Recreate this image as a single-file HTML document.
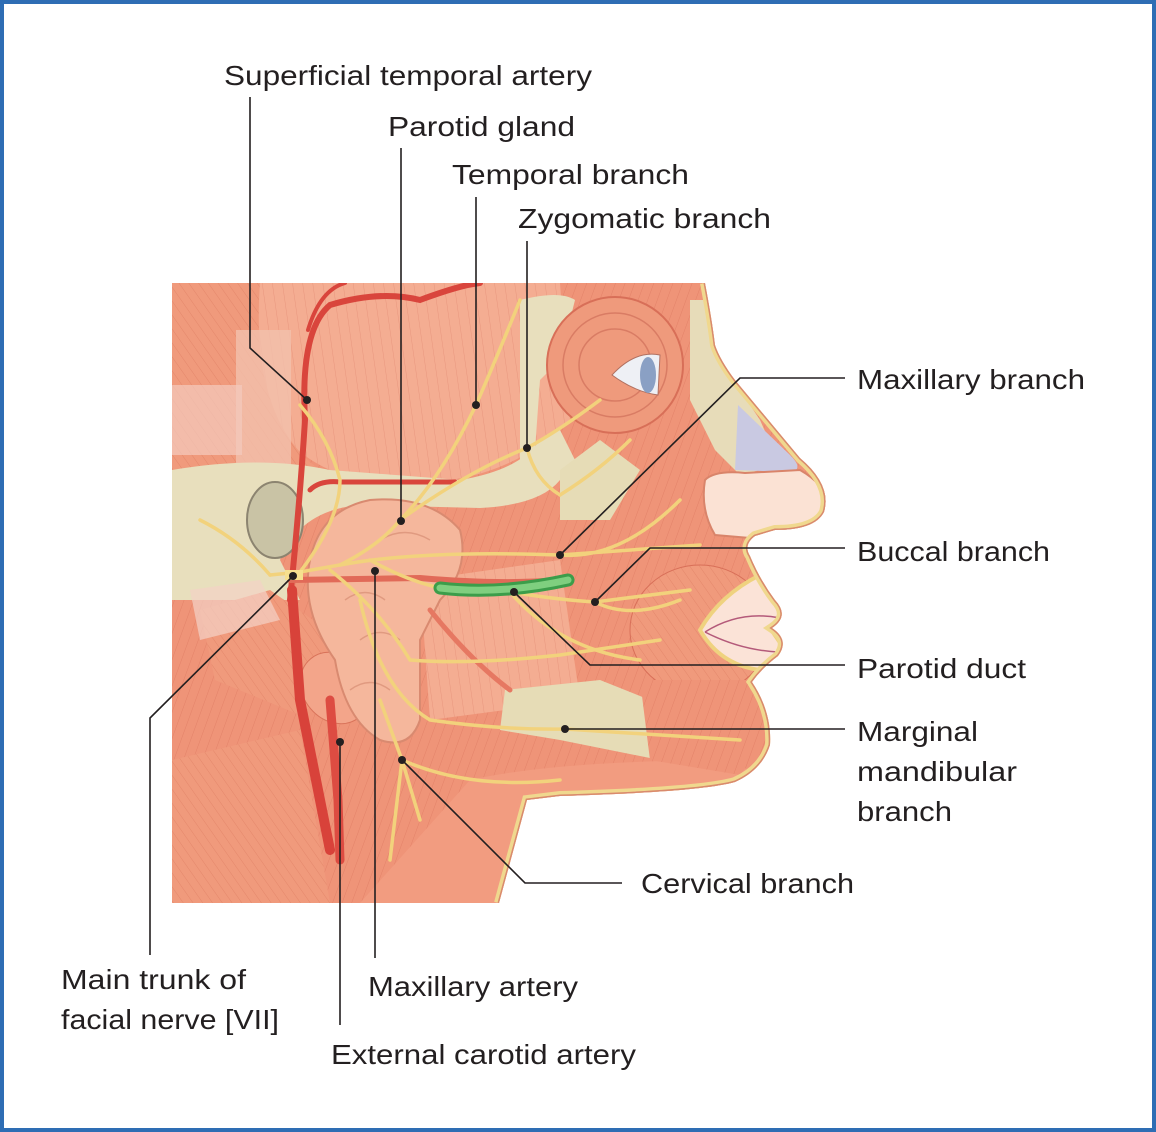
<!DOCTYPE html>
<html><head><meta charset="utf-8"><style>
html,body{margin:0;padding:0;background:#fff}
svg{display:block}
text{font-family:"Liberation Sans",sans-serif;font-size:28px;fill:#231f20}
</style></head><body>
<svg width="1156" height="1132" viewBox="0 0 1156 1132" xmlns="http://www.w3.org/2000/svg">
<defs>
<pattern id="fib" width="9" height="9" patternUnits="userSpaceOnUse" patternTransform="rotate(20)">
<rect width="9" height="9" fill="#ef9478"/><line x1="0" y1="0" x2="0" y2="9" stroke="#d9735a" stroke-width="1" opacity=".55"/></pattern>
<pattern id="fib2" width="8" height="8" patternUnits="userSpaceOnUse" patternTransform="rotate(-35)">
<rect width="8" height="8" fill="#f09a7c"/><line x1="0" y1="0" x2="0" y2="8" stroke="#d8735a" stroke-width="1" opacity=".5"/></pattern>
<pattern id="fib3" width="10" height="10" patternUnits="userSpaceOnUse" patternTransform="rotate(-8)">
<rect width="10" height="10" fill="#f4ad92"/><line x1="0" y1="0" x2="0" y2="10" stroke="#dc806a" stroke-width="1" opacity=".5"/></pattern>
<clipPath id="face"><path d="M172,283 L705,283 Q712,320 715,345 Q720,360 735,380 L800,458 Q832,485 824,512 Q815,530 775,530 L755,536 Q743,545 750,556 Q760,580 775,600 Q790,616 772,628 Q790,640 778,656 Q762,668 752,682 Q772,712 770,745 Q762,770 735,782 Q700,792 560,796 L527,800 L499,903 L172,903 Z"/></clipPath>
</defs>
<rect x="2" y="2" width="1152" height="1128" fill="#fff" stroke="#2e6db4" stroke-width="4"/>

<g clip-path="url(#face)">
<rect x="172" y="283" width="660" height="620" fill="url(#fib)"/>
<!-- temporalis fan -->
<path d="M230,283 L560,283 L570,420 Q520,470 450,480 L330,470 Q240,430 230,283Z" fill="url(#fib3)"/>
<path d="M172,283 L260,283 Q250,420 320,470 L172,470Z" fill="url(#fib2)"/>
<!-- whitish band left -->
<rect x="236" y="330" width="55" height="140" fill="#f3c0ad" opacity=".8"/>
<rect x="172" y="385" width="70" height="70" fill="#f4cbbd" opacity=".7"/>
<!-- zygomatic arch / bone -->
<path d="M172,470 Q260,455 330,470 L460,480 Q520,470 540,440 L560,430 L575,460 L560,480 Q540,505 480,508 L360,505 Q300,510 280,560 L300,600 L172,600Z" fill="#e8dfbd"/>
<path d="M520,300 Q560,290 575,300 L560,360 L540,380 L535,450 L520,470 Z" fill="#e8dfbd"/>
<path d="M560,470 L600,440 L640,470 L610,520 L560,520Z" fill="#e6dcb6"/>
<ellipse cx="275" cy="520" rx="28" ry="38" fill="#c9c3a5" stroke="#8c8470" stroke-width="2"/>
<!-- cut muscle cylinder -->
<path d="M200,610 L270,590 L370,660 L300,715 L215,680Z" fill="url(#fib2)"/>
<ellipse cx="335" cy="688" rx="32" ry="38" transform="rotate(-40 335 688)" fill="#f3a58a" stroke="#d9735a"/>
<path d="M190,590 L260,580 L280,620 L200,640Z" fill="#f4d2c6" opacity=".7"/>
<!-- lower neck lighter -->
<path d="M360,903 L470,780 Q560,760 740,760 L760,790 L499,903Z" fill="#f29c80"/>
<path d="M172,760 L300,730 L330,903 L172,903Z" fill="url(#fib2)"/>
<!-- masseter -->
<path d="M420,580 L560,560 L580,700 L430,720Z" fill="url(#fib3)"/>
<!-- mandible beige -->
<path d="M505,690 L600,680 L650,700 L660,760 L560,740 L500,730Z" fill="#e6dcb6"/>
<!-- orbicularis oculi -->
<circle cx="615" cy="365" r="68" fill="#ef9a7c" stroke="#d86f58" stroke-width="2"/>
<circle cx="615" cy="365" r="52" fill="none" stroke="#d97c64" stroke-width="1.5"/>
<circle cx="615" cy="365" r="36" fill="none" stroke="#d97c64" stroke-width="1.5"/>
<path d="M612,375 Q635,350 660,355 L658,395 Q635,392 612,375Z" fill="#eef0f5" stroke="#b07060"/>
<ellipse cx="648" cy="375" rx="8" ry="18" fill="#8aa0c4"/>
<!-- nose cartilage region -->
<path d="M690,300 L712,300 L718,355 L740,390 L760,420 L780,465 L740,475 L715,450 L690,400Z" fill="#e7dcb9"/>
<path d="M738,405 L790,455 Q805,470 790,472 L735,470 Z" fill="#c9c9e2"/>
<path d="M705,480 Q715,470 745,473 L800,470 Q835,490 822,515 Q810,532 770,530 L750,538 L715,535 Q700,510 705,480Z" fill="#fbe2d4" stroke="#d9846a" stroke-width="2"/>
<!-- mouth region -->
<ellipse cx="700" cy="630" rx="70" ry="65" fill="url(#fib2)" stroke="#d86f58"/>
<path d="M700,630 Q720,595 760,575 L790,615 L770,628 L785,650 L760,670 Q720,665 700,630Z" fill="#fbe3d7" stroke="#efd27f" stroke-width="4"/>
<path d="M705,632 Q740,610 780,618 M705,632 Q740,650 778,652" stroke="#b45a7a" fill="none" stroke-width="1.5"/>
<path d="M745,545 L760,580" stroke="#f0d58a" stroke-width="5" fill="none"/>
<!-- chin muscles -->
<path d="M640,680 L750,680 L768,740 L740,775 L650,760Z" fill="url(#fib)"/>
<!-- parotid gland -->
<path d="M310,560 Q320,510 370,500 Q430,495 460,530 Q470,570 440,600 L420,640 L420,720 Q410,750 380,740 Q345,720 335,660 Q300,610 310,560Z" fill="#f5b79c" stroke="#d98a70" stroke-width="2"/>
<path d="M345,600 q20,-15 40,0 M360,640 q20,-15 40,0 M350,690 q20,-15 40,0 M380,540 q25,-15 50,0" stroke="#e09a80" fill="none" stroke-width="1.5"/>
<!-- profile skin border -->
<path d="M705,283 Q712,320 715,345 Q720,360 735,380 L800,458 Q832,485 824,512 Q815,530 775,530 L755,536 Q743,545 750,556 Q760,580 775,600 Q790,616 772,628 Q790,640 778,656 Q762,668 752,682 Q772,712 770,745 Q762,770 735,782 Q700,792 560,796 L527,800 L499,903" fill="none" stroke="#f0d88e" stroke-width="10"/>
<path d="M705,283 Q712,320 715,345 Q720,360 735,380 L800,458 Q832,485 824,512 Q815,530 775,530 L755,536 Q743,545 750,556 Q760,580 775,600 Q790,616 772,628 Q790,640 778,656 Q762,668 752,682 Q772,712 770,745 Q762,770 735,782 Q700,792 560,796 L527,800 L499,903" fill="none" stroke="#d98a6e" stroke-width="3"/>
<!-- arteries -->
<g fill="none" stroke="#d9453c" stroke-linecap="round">
<path d="M290,600 Q300,500 305,420 Q300,330 330,305 Q380,290 420,300 Q460,285 480,283" stroke-width="6"/>
<path d="M308,330 Q320,290 345,283" stroke-width="4"/>
<path d="M310,490 Q320,480 340,482 L455,482" stroke-width="5"/>
<path d="M290,580 L420,578 Q500,585 560,580" stroke-width="6" stroke="#e16a58"/>
<path d="M292,590 L300,700 L330,850" stroke-width="10" stroke="#d8423a"/>
<path d="M330,700 L338,800 L340,860" stroke-width="9" stroke="#dd4c42"/>
<path d="M430,610 Q470,660 510,690" stroke-width="5" stroke="#e67862"/>
</g>
<!-- nerves -->
<g fill="none" stroke="#f2d27c" stroke-width="3.5" stroke-linecap="round">
<path d="M270,575 L300,572 L340,565 Q380,545 400,520 Q440,480 476,405 Q500,350 520,300"/>
<path d="M400,520 Q470,470 527,448 Q560,430 600,400"/>
<path d="M527,448 Q535,480 560,495 Q600,470 630,440"/>
<path d="M340,565 Q420,550 560,555 L700,545"/>
<path d="M370,560 Q440,600 510,592 Q560,600 595,602 L690,590"/>
<path d="M330,570 Q380,610 410,660 Q470,665 560,655 L660,640"/>
<path d="M360,600 Q380,690 430,720 Q500,730 565,729 L740,740"/>
<path d="M380,700 L402,760 L420,820 M402,760 L390,860 M402,760 Q470,790 560,780"/>
<path d="M270,575 Q240,540 200,520 M300,572 Q340,520 340,480 Q330,440 300,405"/>
<path d="M560,555 Q620,560 680,500 M595,602 Q630,620 680,600 M510,592 Q560,650 640,660"/>
</g>
<rect x="285" y="570" width="18" height="10" fill="#f6e08f"/>
<!-- parotid duct -->
<path d="M440,588 Q500,595 568,580" stroke="#3c9d4a" stroke-width="13" fill="none" stroke-linecap="round"/>
<path d="M440,588 Q500,595 568,580" stroke="#7fcf7f" stroke-width="7" fill="none" stroke-linecap="round"/>
</g>

<!-- leader lines -->
<g stroke="#231f20" stroke-width="1.6" fill="none">
<path d="M250,97 L250,348 L307,400"/>
<path d="M401,148 L401,521"/>
<path d="M476,197 L476,405"/>
<path d="M527,241 L527,448"/>
<path d="M845,378 L740,378 L560,555"/>
<path d="M845,548 L650,548 L595,602"/>
<path d="M845,665 L590,665 L514,592"/>
<path d="M845,729 L565,729"/>
<path d="M622,883 L525,883 L402,760"/>
<path d="M150,955 L150,718 L293,576"/>
<path d="M375,958 L375,571"/>
<path d="M340,1025 L340,742"/>
</g>
<g fill="#231f20">
<circle cx="307" cy="400" r="4"/><circle cx="401" cy="521" r="4"/><circle cx="476" cy="405" r="4"/>
<circle cx="527" cy="448" r="4"/><circle cx="560" cy="555" r="4"/><circle cx="595" cy="602" r="4"/>
<circle cx="514" cy="592" r="4"/><circle cx="565" cy="729" r="4"/><circle cx="402" cy="760" r="4"/>
<circle cx="293" cy="576" r="4"/><circle cx="375" cy="571" r="4"/><circle cx="340" cy="742" r="4"/>
</g>

<!-- labels -->
<text x="224" y="85" textLength="368" lengthAdjust="spacingAndGlyphs">Superficial temporal artery</text>
<text x="388" y="136" textLength="187" lengthAdjust="spacingAndGlyphs">Parotid gland</text>
<text x="452" y="184" textLength="237" lengthAdjust="spacingAndGlyphs">Temporal branch</text>
<text x="518" y="228" textLength="253" lengthAdjust="spacingAndGlyphs">Zygomatic branch</text>
<text x="857" y="389" textLength="228" lengthAdjust="spacingAndGlyphs">Maxillary branch</text>
<text x="857" y="561" textLength="193" lengthAdjust="spacingAndGlyphs">Buccal branch</text>
<text x="857" y="678" textLength="169" lengthAdjust="spacingAndGlyphs">Parotid duct</text>
<text x="857" y="741" textLength="121" lengthAdjust="spacingAndGlyphs">Marginal</text>
<text x="857" y="781" textLength="160" lengthAdjust="spacingAndGlyphs">mandibular</text>
<text x="857" y="821" textLength="95" lengthAdjust="spacingAndGlyphs">branch</text>
<text x="641" y="893" textLength="213" lengthAdjust="spacingAndGlyphs">Cervical branch</text>
<text x="61" y="989" textLength="185" lengthAdjust="spacingAndGlyphs">Main trunk of</text>
<text x="61" y="1029" textLength="218" lengthAdjust="spacingAndGlyphs">facial nerve [VII]</text>
<text x="368" y="996" textLength="210" lengthAdjust="spacingAndGlyphs">Maxillary artery</text>
<text x="331" y="1064" textLength="305" lengthAdjust="spacingAndGlyphs">External carotid artery</text>
</svg>
</body></html>
